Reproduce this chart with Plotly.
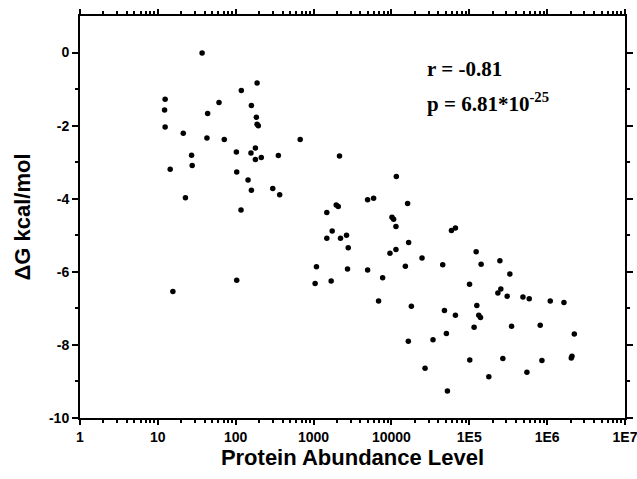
import plotly.graph_objects as go

# Protein abundance (x, log axis) and folding free energy dG (kcal/mol)
abundance = [
    37, 12.4, 12.2, 12.4, 14.4, 21.2, 27.1, 27.6, 22.6, 43.6,
    42.7, 61, 71.3, 102, 103, 117, 118, 144, 159, 157,
    159, 179, 179, 188, 184, 188, 195, 213, 299, 353,
    367, 673, 2153, 1479, 1954, 2075,
    15.6, 103, 1734, 1479, 2218, 2649, 2786, 2729, 1089, 1047, 1683,
    11560, 4943, 5902, 4943, 7709, 6839, 9572, 10160, 10670, 11430,
    11430, 15100, 16140, 16630, 18030, 24720, 45600, 47970, 59020, 66370,
    66370, 100700, 122500, 141900, 125000, 132400, 139300, 247200, 232800, 254100,
    306900, 331900, 488700, 588800, 1096000, 1644000,
    16480, 27040, 34200, 50820, 52360, 101400, 115300, 178200, 269800, 349100,
    549500, 814700, 857000, 2042000, 2084000, 2234000,
]
delta_g = [
    -0.01, -1.28, -1.57, -2.04, -3.19, -2.21, -2.81, -3.09, -3.97, -1.67,
    -2.34, -1.37, -2.38, -2.72, -3.27, -4.31, -1.04, -3.49, -3.77, -2.75,
    -1.45, -2.61, -2.93, -0.83, -1.77, -1.96, -2.00, -2.87, -3.72, -2.82,
    -3.89, -2.38, -2.83, -4.38, -4.17, -4.21,
    -6.54, -6.23, -4.88, -5.08, -5.08, -5.00, -5.34, -5.92, -5.86, -6.32, -6.25,
    -3.39, -4.03, -3.99, -5.95, -6.16, -6.80, -5.49, -4.51, -4.56, -4.76,
    -5.39, -5.85, -4.13, -5.20, -6.94, -5.62, -5.81, -7.06, -4.87, -4.80,
    -7.19, -6.34, -5.45, -5.79, -6.92, -7.19, -7.25, -5.70, -6.58, -6.47,
    -6.67, -6.06, -6.69, -6.74, -6.80, -6.84,
    -7.90, -8.64, -7.86, -7.69, -9.26, -8.41, -7.52, -8.87, -8.37, -7.49,
    -8.75, -7.46, -8.43, -8.36, -8.31, -7.70,
]

x_tickvals = [1, 10, 100, 1000, 10000, 1e5, 1e6, 1e7]
x_ticktext = ["1", "10", "100", "1000", "10000", "1E5", "1E6", "1E7"]
y_tickvals = [0, -2, -4, -6, -8, -10]
y_ticktext = ["0", "-2", "-4", "-6", "-8", "-10"]
x_minor = [m * 10 ** d for d in range(7) for m in range(2, 10)]
y_minor = [-1, -3, -5, -7, -9]

x_title = "Protein Abundance Level"
y_title = "ΔG kcal/mol"
r_text = "r = -0.81"
p_text = "p = 6.81*10<sup>-25</sup>"

tick_font = dict(family="Liberation Sans", size=14, color="black", weight="bold")
xtitle_font = dict(family="Liberation Sans", size=22, color="black", weight="bold")
ytitle_font = dict(family="Liberation Sans", size=22, color="black", weight="bold")
ann_font = dict(family="Liberation Serif", size=21, color="black", weight="bold")

fig = go.Figure()
fig.add_trace(go.Scatter(
    x=abundance, y=delta_g, mode="markers",
    marker=dict(color="black", size=5.5, line=dict(width=0)),
    showlegend=False, hoverinfo="skip",
))

xrange = [0, 7]
yrange = [-10, 1]

common = dict(showline=True, linecolor="black", linewidth=2, showgrid=False,
              zeroline=False, automargin=False, tickcolor="black", tickwidth=1.5,
              mirror="allticks", ticklabeloverflow="allow")

fig.update_layout(
    width=637, height=479,
    margin=dict(l=80, r=12, t=16, b=61),
    paper_bgcolor="white", plot_bgcolor="white",
    xaxis=dict(
        type="log", range=xrange, tickvals=x_tickvals, ticktext=x_ticktext,
        ticks="outside", ticklen=5, tickfont=tick_font, **common,
        minor=dict(tickvals=x_minor, ticks="outside", ticklen=3, tickwidth=1.5,
                   tickcolor="black", showgrid=False),
        title=dict(text=x_title, font=xtitle_font, standoff=4),
    ),
    yaxis=dict(
        range=yrange, tickvals=y_tickvals, ticktext=y_ticktext,
        ticks="outside", ticklen=6, tickfont=tick_font, **common,
        minor=dict(tickvals=y_minor, ticks="outside", ticklen=3, tickwidth=1.5,
                   tickcolor="black", showgrid=False),
        title=dict(text=y_title, font=ytitle_font, standoff=12),
    ),
    annotations=[
        dict(text=r_text, xref="paper", yref="paper", x=0.633, y=0.867,
             xanchor="left", yanchor="middle", showarrow=False, font=ann_font),
        dict(text=p_text, xref="paper", yref="paper", x=0.633, y=0.785,
             xanchor="left", yanchor="middle", showarrow=False, font=ann_font),
    ],
)

# remove the default page margin so the 637x479 figure fills the window exactly
fig.write_html("out.html", config={"displayModeBar": False},
               post_script="document.body.style.margin='0';document.body.style.overflow='hidden';")
